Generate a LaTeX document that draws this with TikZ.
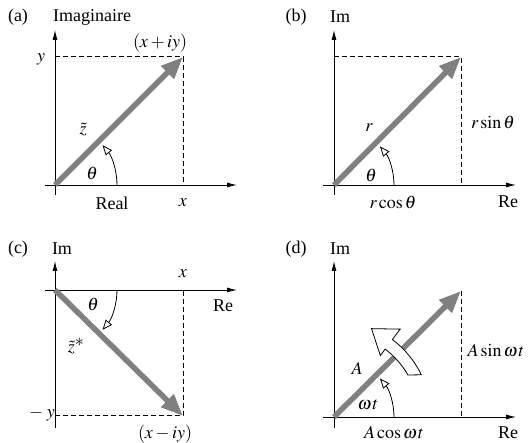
\documentclass[tikz,border=0pt]{standalone}
\usepackage{mathptmx}
\usepackage{fontspec}
\setmainfont{Liberation Serif}
\usepackage{tikz}
\usetikzlibrary{arrows.meta,calc}

\begin{document}
\begin{tikzpicture}[x=1pt, y=1pt,
    axis/.style={-{Latex[length=10pt, width=5pt]}, line width=0.9pt, black},
    phasor/.style={-{Triangle[length=22pt, width=17pt]}, line width=5.5pt, draw=black!50},
    guide/.style={dash pattern=on 5pt off 3pt, line width=1pt},
    anglearc/.style={-{Triangle[open, length=10pt, width=8pt]}, line width=0.8pt},
    lbl/.style={font=\fontsize{18}{21}\selectfont, inner sep=0pt}
  ]
    \useasboundingbox (0,0) rectangle (532,443);

    % (a) Cartesian form
    \coordinate (ao) at (55,258);
    \coordinate (ap) at (183,386);
    \draw[axis] ($(ao)+(0,-10)$) -- ($(ao)+(0,155)$);
    \draw[axis] ($(ao)+(-10,0)$) -- ($(ao)+(182,0)$);
    \draw[guide] (ao |- ap) -- (ap) -- (ap |- ao);
    \draw[phasor] (ao) -- (ap);
    \draw[anglearc] ($(ao)+(62,0)$) arc[start angle=0, end angle=40, radius=62];
    \node[lbl] (atag) at (18,426) {(a)};
    \node[lbl] (aim) at (92,426) {Imaginaire};
    \node[lbl] (ay) at (41,384) {$y$};
    \node[lbl] (apt) at (160,400) {$(x + iy)$};
    \node[lbl] (az) at (83,313) {$\tilde{z}$};
    \node[lbl] (ath) at (92,270) {$\theta$};
    \node[lbl] (are) at (112,240) {Real};
    \node[lbl] (ax) at (183,240) {$x$};

    % (b) Polar form
    \coordinate (bo) at (334,258);
    \coordinate (bp) at (461,386);
    \draw[axis] ($(bo)+(0,-10)$) -- ($(bo)+(0,155)$);
    \draw[axis] ($(bo)+(-11,0)$) -- ($(bo)+(182,0)$);
    \draw[guide] (bo |- bp) -- (bp) -- (bp |- bo);
    \draw[phasor] (bo) -- (bp);
    \draw[anglearc] ($(bo)+(60,0)$) arc[start angle=0, end angle=40, radius=60];
    \node[lbl] (btag) at (296,426) {(b)};
    \node[lbl] (bim) at (340,426) {Im};
    \node[lbl] (br) at (369,315) {$r$};
    \node[lbl] (bth) at (371,268) {$\theta$};
    \node[lbl] (bsin) at (493,321) {$r\sin\theta$};
    \node[lbl] (bcos) at (393,241) {$r\cos\theta$};
    \node[lbl] (bre) at (508,241) {Re};

    % (c) Complex conjugate
    \coordinate (co) at (55,153);
    \coordinate (cp) at (183,27);
    \draw[axis] ($(co)+(0,-138)$) -- ($(co)+(0,29)$);
    \draw[axis] ($(co)+(-10,0)$) -- ($(co)+(182,0)$);
    \draw[guide] (co |- cp) -- (cp) -- (cp |- co);
    \draw[phasor] (co) -- (cp);
    \draw[anglearc] ($(co)+(62,0)$) arc[start angle=0, end angle=-40, radius=62];
    \node[lbl] (ctag) at (18,194) {(c)};
    \node[lbl] (cim) at (62,194) {Im};
    \node[lbl] (cx) at (183,169) {$x$};
    \node[lbl] (cth) at (93,139) {$\theta$};
    \node[lbl] (cre) at (223,137) {Re};
    \node[lbl] (cz) at (76,97) {$\tilde{z}^{\textstyle *}$};
    \node[lbl] (cy) at (42,29) {$-\;y$};
    \node[lbl] (cpt) at (165,9) {$(x - iy)$};

    % (d) Rotating phasor
    \coordinate (do) at (334,26);
    \coordinate (dp) at (461,152);
    \draw[axis] ($(do)+(0,-11)$) -- ($(do)+(0,156)$);
    \draw[axis] ($(do)+(-11,0)$) -- ($(do)+(182,0)$);
    \draw[guide] (dp) -- (dp |- do);
    \draw[phasor] (do) -- (dp);
    \draw[anglearc] ($(do)+(60,0)$) arc[start angle=0, end angle=40, radius=60];
    \begin{scope}[shift={(do)}]
      \draw[line width=0.8pt, fill=white] (29.6:85) arc[start angle=29.6, end angle=53, radius=85]
        -- (53:77) -- (67:96) -- (53:110) -- (53:97)
        arc[start angle=53, end angle=25.8, radius=97] -- cycle;
    \end{scope}
    \node[lbl] (dtag) at (296,194) {(d)};
    \node[lbl] (dim) at (340,194) {Im};
    \node[lbl] (da) at (357,75) {$A$};
    \node[lbl] (dwt) at (368,38) {$\omega\mkern1mu t$};
    \node[lbl] (dsin) at (496,92) {$A\sin\omega\mkern1mu t$};
    \node[lbl] (dcos) at (394,10) {$A\cos\omega\mkern1mu t$};
    \node[lbl] (dre) at (508,10) {Re};
  \end{tikzpicture}
\end{document}
